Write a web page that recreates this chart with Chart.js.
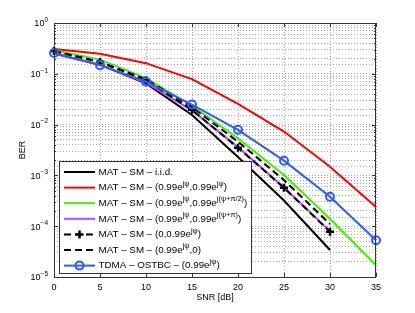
<!DOCTYPE html>
<html>
<head>
<meta charset="utf-8">
<script src="https://cdn.jsdelivr.net/npm/chart.js@4.4.0/dist/chart.umd.min.js"></script>
<style>
  html, body { margin: 0; padding: 0; background: #fff; }
  #wrap { width: 415px; height: 313px; position: relative; }
</style>
</head>
<body>
<div id="wrap"><canvas id="chart"></canvas></div>
<script>
// data
const snr = [0, 5, 10, 15, 20, 25, 30, 35];
const berIid = [0.25, 0.15, 0.065, 0.0155, 0.0023, 0.00032, 0.000034];
const berSame = [0.307, 0.248, 0.162, 0.0785, 0.0256, 0.0073, 0.00148, 0.00024];
const berHalfPi = [0.29, 0.19, 0.082, 0.0234, 0.0054, 0.00102, 0.00014, 0.000017];
const berPi = [0.25, 0.15, 0.067, 0.019, 0.0036, 0.00058, 0.00008];
const berZeroFirst = [0.28, 0.17, 0.075, 0.0195, 0.0035, 0.00057, 0.000078];
const berZeroSecond = [0.28, 0.17, 0.078, 0.022, 0.0046, 0.00081, 0.00011];
const berTdma = [0.256, 0.148, 0.07, 0.0248, 0.0079, 0.00195, 0.00038, 0.000053];

const labels = [
  'MAT \u2013 SM \u2013 i.i.d.',
  'MAT \u2013 SM \u2013 (0.99e^{j\u03C8},0.99e^{j\u03C8})',
  'MAT \u2013 SM \u2013 (0.99e^{j\u03C8},0.99e^{j(\u03C8+\u03C0/2)})',
  'MAT \u2013 SM \u2013 (0.99e^{j\u03C8},0.99e^{j(\u03C8+\u03C0)})',
  'MAT \u2013 SM \u2013 (0,0.99e^{j\u03C8})',
  'MAT \u2013 SM \u2013 (0.99e^{j\u03C8},0)',
  'TDMA \u2013 OSTBC \u2013 (0.99e^{j\u03C8})'
];
const yExponents = [0, -1, -2, -3, -4, -5];
const xLabel = 'SNR [dB]';
const yLabel = 'BER';

const FONT = "'Liberation Sans', Arial, sans-serif";

function pts(ys) {
  return ys.map((y, i) => ({ x: snr[i], y: y }));
}

function line(label, ys, color, extra) {
  return Object.assign({
    label: label,
    data: pts(ys),
    borderColor: color,
    backgroundColor: color,
    borderWidth: 2,
    pointRadius: 0,
    tension: 0,
    clip: 8
  }, extra || {});
}

const datasets = [
  line(labels[0], berIid, '#000000', { order: 5 }),
  line(labels[1], berSame, '#ff0000', { order: 6 }),
  line(labels[2], berHalfPi, '#44ee00', { order: 4 }),
  line(labels[3], berPi, '#bb44ff', { order: 3 }),
  line(labels[4], berZeroFirst, '#000000', {
    order: 2, borderDash: [7, 4], pointStyle: 'cross', pointRadius: 4,
    pointBorderWidth: 2.5, pointHoverRadius: 4
  }),
  line(labels[5], berZeroSecond, '#000000', { order: 1, borderDash: [7, 4] }),
  line(labels[6], berTdma, '#2a5cff', {
    order: 0, pointStyle: 'circle', pointRadius: 4, pointBorderWidth: 2,
    pointBackgroundColor: 'rgba(0,0,0,0)', pointHoverRadius: 4
  })
];

// text with ^{...} superscripts
function drawRich(ctx, text, x, y, size) {
  const parts = text.split(/\^\{([^}]*)\}/);
  ctx.textAlign = 'left';
  ctx.textBaseline = 'middle';
  let cx = x;
  parts.forEach((p, i) => {
    if (!p) return;
    const sup = i % 2 === 1;
    ctx.font = (sup ? size * 0.75 : size) + 'px ' + FONT;
    ctx.fillText(p, cx, sup ? y - size * 0.4 : y);
    cx += ctx.measureText(p).width;
  });
  return cx;
}

const decorPlugin = {
  id: 'decor',
  afterDraw(chart) {
    const { ctx, chartArea: a, scales } = chart;
    ctx.save();
    // box
    ctx.strokeStyle = '#333';
    ctx.lineWidth = 1;
    ctx.setLineDash([]);
    ctx.strokeRect(a.left + 0.5, a.top + 0.5, a.right - a.left - 1, a.bottom - a.top);

    // inner ticks
    ctx.beginPath();
    snr.forEach(v => {
      const px = Math.round(scales.x.getPixelForValue(v)) + 0.5;
      ctx.moveTo(px, a.bottom); ctx.lineTo(px, a.bottom - 4);
      ctx.moveTo(px, a.top); ctx.lineTo(px, a.top + 4);
    });
    yExponents.forEach(e => {
      for (let m = 1; m <= 9; m++) {
        const v = m * Math.pow(10, e);
        if (v > 1 || (e === -5 && m > 1)) continue;
        const py = Math.round(scales.y.getPixelForValue(v)) + 0.5;
        const len = m === 1 ? 4 : 2;
        ctx.moveTo(a.left, py); ctx.lineTo(a.left + len, py);
        ctx.moveTo(a.right, py); ctx.lineTo(a.right - len, py);
      }
    });
    ctx.stroke();

    // y tick labels
    ctx.fillStyle = '#000';
    yExponents.forEach(e => {
      const py = scales.y.getPixelForValue(Math.pow(10, e));
      const base = '10';
      const sup = String(e).replace('-', '\u2212');
      ctx.font = '6.5px ' + FONT;
      const sw = ctx.measureText(sup).width;
      ctx.font = '9px ' + FONT;
      const bw = ctx.measureText(base).width;
      const right = a.left - 6;
      ctx.textAlign = 'left';
      ctx.textBaseline = 'middle';
      ctx.fillText(base, right - sw - bw, py + 1);
      ctx.font = '6.5px ' + FONT;
      ctx.fillText(sup, right - sw, py - 3);
    });

    // axis titles
    ctx.font = '9px ' + FONT;
    ctx.textAlign = 'center';
    ctx.textBaseline = 'middle';
    ctx.fillText(xLabel, (a.left + a.right) / 2, 298);
    ctx.save();
    ctx.translate(23, (a.top + a.bottom) / 2);
    ctx.rotate(-Math.PI / 2);
    ctx.fillText(yLabel, 0, 0);
    ctx.restore();

    // legend
    const lx = 59, ly = 161, lw = 192, lh = 112;
    ctx.fillStyle = '#fff';
    ctx.fillRect(lx, ly, lw, lh);
    ctx.strokeStyle = '#333';
    ctx.lineWidth = 1;
    ctx.strokeRect(lx + 0.5, ly + 0.5, lw, lh);
    chart.data.datasets.forEach((ds, i) => {
      const y = 172 + i * 15.6;
      ctx.strokeStyle = ds.borderColor;
      ctx.lineWidth = 2;
      ctx.setLineDash(ds.borderDash || []);
      ctx.beginPath();
      ctx.moveTo(64, y); ctx.lineTo(95, y);
      ctx.stroke();
      ctx.setLineDash([]);
      if (ds.pointRadius) {
        ctx.fillStyle = 'rgba(0,0,0,0)';
        ctx.lineWidth = ds.pointBorderWidth;
        Chart.helpers.drawPoint(ctx, {
          pointStyle: ds.pointStyle, radius: ds.pointRadius,
          borderWidth: ds.pointBorderWidth, rotation: 0
        }, 79.5, y);
      }
      ctx.fillStyle = '#000';
      drawRich(ctx, ds.label, 98.5, y, 9.8);
    });
    ctx.restore();
  }
};

new Chart(document.getElementById('chart'), {
  type: 'line',
  data: { datasets: datasets },
  options: {
    responsive: true,
    maintainAspectRatio: false,
    animation: false,
    events: [],
    layout: { padding: { left: 0, right: 39, top: 23, bottom: 0 } },
    plugins: { legend: { display: false }, tooltip: { enabled: false } },
    scales: {
      x: {
        type: 'linear', min: 0, max: 35,
        ticks: { stepSize: 5, color: '#000', padding: 5, font: { size: 9, family: FONT } },
        grid: { color: '#a8a8a8', drawTicks: false },
        border: { display: false, dash: [1, 2] },
        afterFit(s) { s.height = 36; }
      },
      y: {
        type: 'logarithmic', min: 1e-5, max: 1,
        ticks: { display: false, autoSkip: false },
        grid: { color: '#a8a8a8', drawTicks: false },
        border: { display: false, dash: [1, 2] },
        afterFit(s) { s.width = 54; }
      }
    }
  },
  plugins: [decorPlugin]
});
</script>
</body>
</html>
